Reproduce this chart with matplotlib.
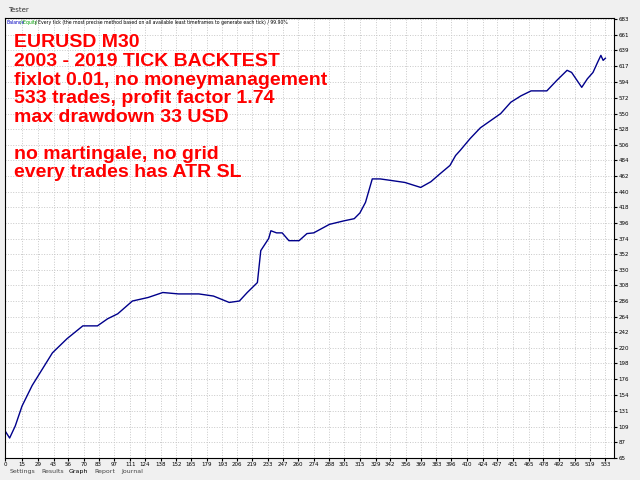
import matplotlib
matplotlib.use("Agg")
import matplotlib.pyplot as plt

trades = [0,4,9,15,24,33,42,55,69,82,91,100,113,127,140,154,172,185,199,208,215,224,227,234,236,241,246,252,261,268,274,288,301,310,315,320,326,333,342,355,369,378,386,395,400,404,413,422,431,440,449,458,467,481,490,499,503,512,517,522,526,529,531,533]
balance = [103,93,110,138,167,190,213,233,251,251,261,268,286,291,298,296,296,293,284,286,298,312,357,374,385,382,382,371,371,381,382,394,399,402,410,425,458,458,456,453,446,454,465,477,491,498,515,530,540,550,566,575,582,582,597,611,608,587,599,608,622,632,625,628]
yticks = [65,87,109,131,154,176,198,220,242,264,286,308,330,352,374,396,418,440,462,484,506,528,550,572,594,617,639,661,683]
xticks = [0,15,29,43,56,70,83,97,111,124,138,152,165,179,193,206,219,233,247,260,274,288,301,315,329,342,356,369,383,396,410,424,437,451,465,478,492,506,519,533]
lines = ["EURUSD M30", "2003 - 2019 TICK BACKTEST", "fixlot 0.01, no moneymanagement",
         "533 trades, profit factor 1.74", "max drawdown 33 USD", "",
         "no martingale, no grid", "every trades has ATR SL"]

fig = plt.figure(figsize=(6.4, 4.8), dpi=100, facecolor="#f0f0f0")
fig.text(0.012, 0.985, "Tester", fontsize=5, va="top", color="#333333")
ax = fig.add_axes([0.008, 0.046, 0.952, 0.917])
ax.plot(trades, balance, color="#00008b", lw=1)
ax.set_xlim(0, 541)
ax.set_ylim(65, 685)
ax.set_xticks(xticks)
ax.set_yticks(yticks)
ax.tick_params(labelsize=4, length=2, pad=1)
ax.yaxis.tick_right()
ax.grid(True, color="#c8c8c8", ls=":", lw=0.7)
for s in ax.spines.values():
    s.set_color("black"); s.set_linewidth(0.8)
ax.text(0.003, 0.995, "Balance", color="#0000c0", fontsize=3.3, transform=ax.transAxes, va="top")
ax.text(0.025, 0.995, "/ Equity", color="#00a000", fontsize=3.3, transform=ax.transAxes, va="top")
ax.text(0.049, 0.995, "/ Every tick (the most precise method based on all available least timeframes to generate each tick) / 99.90%",
        color="black", fontsize=3.3, transform=ax.transAxes, va="top")
ax.text(0.014, 0.962, "\n".join(lines), color="#ff0000", fontsize=14, fontweight="bold",
        transform=ax.transAxes, va="top", linespacing=1.12, family="Liberation Sans")
tabs = ["Settings", "Results", "Graph", "Report", "Journal"]
xs = [0.015, 0.065, 0.108, 0.148, 0.19]
for t, x in zip(tabs, xs):
    fig.text(x, 0.018, t, fontsize=4.5, color="#444444" if t != "Graph" else "black", va="center")
fig.savefig("out.png", dpi=100, facecolor=fig.get_facecolor())
